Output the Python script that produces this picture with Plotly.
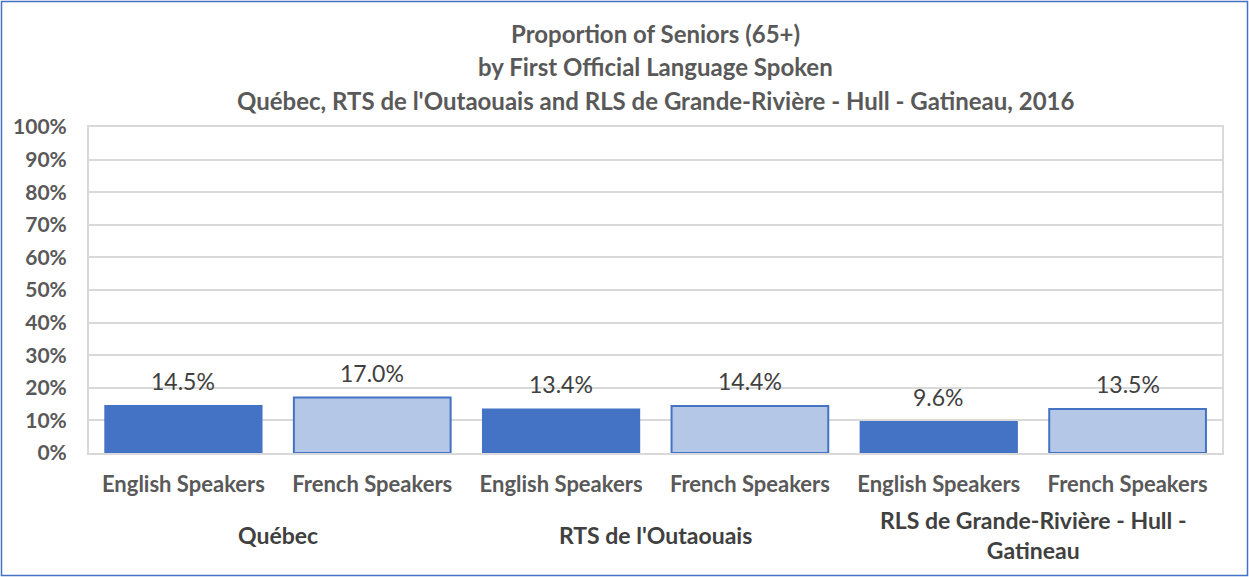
import plotly.graph_objects as go

# data
regions = ["Québec", "RTS de l'Outaouais", "RLS de Grande-Rivière - Hull -<br>Gatineau"]
speakers = ["English Speakers", "French Speakers"]
english = [14.5, 13.4, 9.6]
french = [17.0, 14.4, 13.5]
y_ticks = [0, 10, 20, 30, 40, 50, 60, 70, 80, 90, 100]

W, H = 1249, 577
ml, mr, mt, mb = 89, 27, 127, 124
pw, ph = W - ml - mr, H - mt - mb

FONT = "Lato"
DARK = "#4472C4"
LIGHT = "#B4C7E7"

x_en = [2 * i for i in range(len(regions))]
x_fr = [2 * i + 1 for i in range(len(regions))]

fig = go.Figure()
fig.add_trace(go.Bar(x=x_en, y=english, marker=dict(color=DARK, line=dict(color=DARK, width=1.5)),
                     name="English Speakers", showlegend=False))
fig.add_trace(go.Bar(x=x_fr, y=french, marker=dict(color=LIGHT, line=dict(color=DARK, width=2)),
                     name="French Speakers", showlegend=False))

# data labels
for xs, vals in [(x_en, english), (x_fr, french)]:
    for x, v in zip(xs, vals):
        fig.add_annotation(x=x, y=v, text=f"{v:.1f}%", showarrow=False, yanchor="bottom", yshift=9,
                           font=dict(family=FONT, size=23, color="#404040"))

# group labels
for i, r in enumerate(regions):
    fig.add_annotation(x=2 * i + 0.5, y=0, yref="paper", text=f"<b>{r}</b>", showarrow=False,
                       yanchor="middle", yshift=-82, font=dict(family=FONT, size=23, color="#404040"))

# title lines
titles = ["Proportion of Seniors (65+)", "by First Official Language Spoken",
          "Québec, RTS de l'Outaouais and RLS de Grande-Rivière - Hull - Gatineau, 2016"]
for k, t in enumerate(titles):
    fig.add_annotation(x=0.5, y=1, xref="paper", yref="paper", text=f"<b>{t}</b>", showarrow=False,
                       yanchor="middle", yshift=(mt - 33 - 33.5 * k),
                       font=dict(family=FONT, size=24, color="#595959"))

# outer border
fig.add_shape(type="rect", xref="paper", yref="paper",
              x0=-(ml - 1.5) / pw, x1=1 + (mr - 1.5) / pw,
              y0=-(mb - 1.5) / ph, y1=1 + (mt - 1.5) / ph,
              line=dict(color=DARK, width=1.5))

fig.update_layout(
    width=W, height=H,
    margin=dict(l=ml, r=mr, t=mt, b=mb),
    paper_bgcolor="white", plot_bgcolor="white",
    bargap=0.17,
    font=dict(family=FONT),
)
fig.update_xaxes(
    range=[-0.5, 5.5],
    tickvals=x_en + x_fr,
    ticktext=[speakers[0]] * 3 + [speakers[1]] * 3,
    tickfont=dict(family=FONT, size=22, color="#595959", weight="bold"),
    ticks="outside", ticklen=11, tickcolor="rgba(0,0,0,0)",
    showline=True, linecolor="#D9D9D9", linewidth=2, mirror=True,
    showgrid=False, zeroline=False,
)
fig.update_yaxes(
    range=[0, 100],
    tickvals=y_ticks,
    ticktext=[f"{v}%" for v in y_ticks],
    tickfont=dict(family=FONT, size=21, color="#595959", weight="bold"),
    showgrid=True, gridcolor="#D9D9D9", gridwidth=2,
    showline=True, linecolor="#D9D9D9", linewidth=2, mirror=True,
    zeroline=False, ticks="outside", ticklen=16, tickcolor="rgba(0,0,0,0)",
)

fig.write_html("out.html", config={"displayModeBar": False},
               post_script="document.body.style.margin='0';")
